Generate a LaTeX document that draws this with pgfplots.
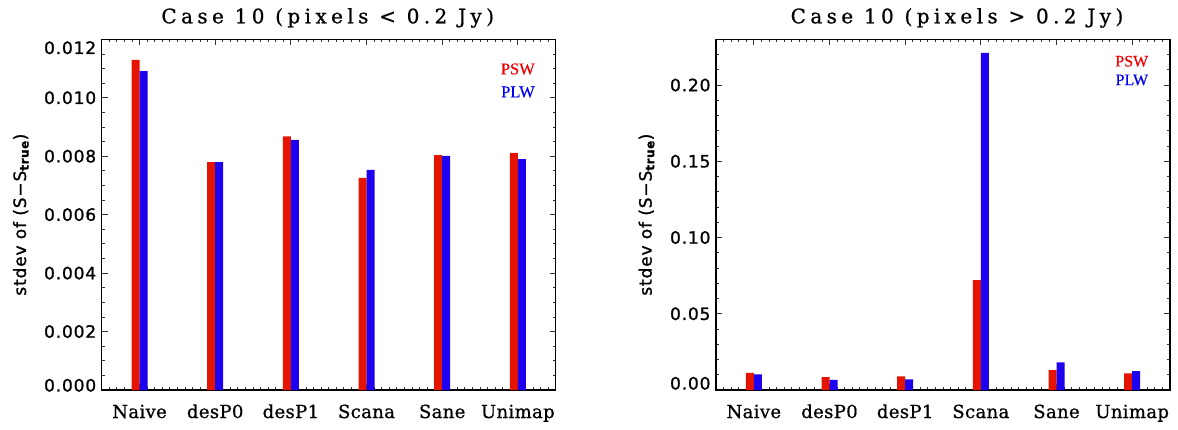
\documentclass[border=0pt]{standalone}
\usepackage{fontspec}
\usepackage{pgfplots}
\pgfplotsset{compat=1.18}
\newfontfamily\tickfont[LetterSpace=5,FakeBold=1.2]{DejaVu Sans}
\newfontfamily\titlefont[LetterSpace=22,FakeBold=0.8]{DejaVu Serif}
\newfontfamily\xlabfont[LetterSpace=2,FakeBold=0.8]{DejaVu Serif}
\newfontfamily\legfont[FakeBold=0.4]{Liberation Serif}
\definecolor{barred}{RGB}{228,20,0}
\definecolor{barblue}{RGB}{30,0,240}
\definecolor{legred}{RGB}{240,0,0}
\definecolor{legblue}{RGB}{0,0,245}

\pgfplotstableread{
x psw plw
1 0.01130 0.01091
2 0.00780 0.00780
3 0.00868 0.00856
4 0.00726 0.00753
5 0.00804 0.00801
6 0.00811 0.00790
}\lowtab

\pgfplotstableread{
x psw plw
1 0.0113 0.0103
2 0.0085 0.0066
3 0.0090 0.0070
4 0.0721 0.2211
5 0.0130 0.0181
6 0.0109 0.0124
}\hightab

\pgfplotsset{
 mystyle/.style={
  scale only axis, width=454pt, height=350.7pt,
  xmin=0.5, xmax=6.5, ymin=0,
  xtick={1,2,3,4,5,6},
  xticklabels={Naive,desP0,desP1,Scana,Sane,Unimap},
  minor xtick={0.6,0.7,...,6.45},
  tick align=inside,
  major tick length=6pt, minor tick length=3pt,
  axis line style={black, line width=1.1pt},
  every tick/.style={black!80, line width=0.8pt},
  xticklabel style={font=\fontsize{18}{20}\selectfont\xlabfont, anchor=base, yshift=-28pt},
  yticklabel style={font=\fontsize{17}{19}\selectfont\tickfont, anchor=east, xshift=-2pt},
  ylabel style={font=\fontsize{17}{19}\selectfont\tickfont, anchor=center},
  title style={font=\fontsize{20}{22}\selectfont\titlefont, anchor=base, yshift=10pt, xshift=14pt},
  scaled y ticks=false,
  clip=false,
 }
}

\begin{document}
\begin{tikzpicture}
\useasboundingbox (0pt,0pt) rectangle (1178pt,429pt);

\begin{axis}[mystyle,
  at={(101.7pt,39pt)}, anchor=south west,
  ymax=0.012,
  ytick={0,0.002,0.004,0.006,0.008,0.010,0.012},
  yticklabels={{\raisebox{4.7pt}[\height][\depth]{0.000}},0.002,0.004,0.006,0.008,0.010,{\raisebox{-8.5pt}[\height][\depth]{0.012}}},
  minor ytick={0,0.0005,...,0.01201},
  title={Case 10 (pixels < 0.2 Jy)},
  title style={at={(axis description cs:0.467,1)}},
  ylabel={stdev of (S−S\textsubscript{\bfseries true})},
  ylabel style={at={(axis description cs:-0.178,0.5)}},
]
\addplot[ybar, bar width=8pt, bar shift=-4pt, fill=barred, draw=none] table[x=x, y=psw] {\lowtab};
\addplot[ybar, bar width=8pt, bar shift=4pt, fill=barblue, draw=none] table[x=x, y=plw] {\lowtab};
\node[anchor=east, inner sep=0pt, text=legred, font=\fontsize{16.5}{18}\selectfont\legfont] at (rel axis cs:0.9544,0.9153) {PSW};
\node[anchor=east, inner sep=0pt, text=legblue, font=\fontsize{16.5}{18}\selectfont\legfont] at (rel axis cs:0.9544,0.8497) {PLW};
\end{axis}

\begin{axis}[mystyle,
  at={(716pt,39pt)}, anchor=south west,
  ymax=0.23,
  ytick={0,0.05,0.10,0.15,0.20},
  yticklabels={{\raisebox{6.7pt}[\height][\depth]{0.00}},0.05,0.10,0.15,0.20},
  minor ytick={0,0.01,...,0.2301},
  title={Case 10 (pixels > 0.2 Jy)},
  title style={at={(axis description cs:0.5,1)}},
  ylabel={stdev of (S−S\textsubscript{\bfseries true})},
  ylabel style={at={(axis description cs:-0.153,0.5)}},
]
\addplot[ybar, bar width=8pt, bar shift=-4pt, fill=barred, draw=none] table[x=x, y=psw] {\hightab};
\addplot[ybar, bar width=8pt, bar shift=4pt, fill=barblue, draw=none] table[x=x, y=plw] {\hightab};
\node[anchor=east, inner sep=0pt, text=legred, font=\fontsize{16}{18}\selectfont\legfont] at (rel axis cs:0.9524,0.9373) {PSW};
\node[anchor=east, inner sep=0pt, text=legblue, font=\fontsize{16}{18}\selectfont\legfont] at (rel axis cs:0.9524,0.8840) {PLW};
\end{axis}
\end{tikzpicture}
\end{document}
